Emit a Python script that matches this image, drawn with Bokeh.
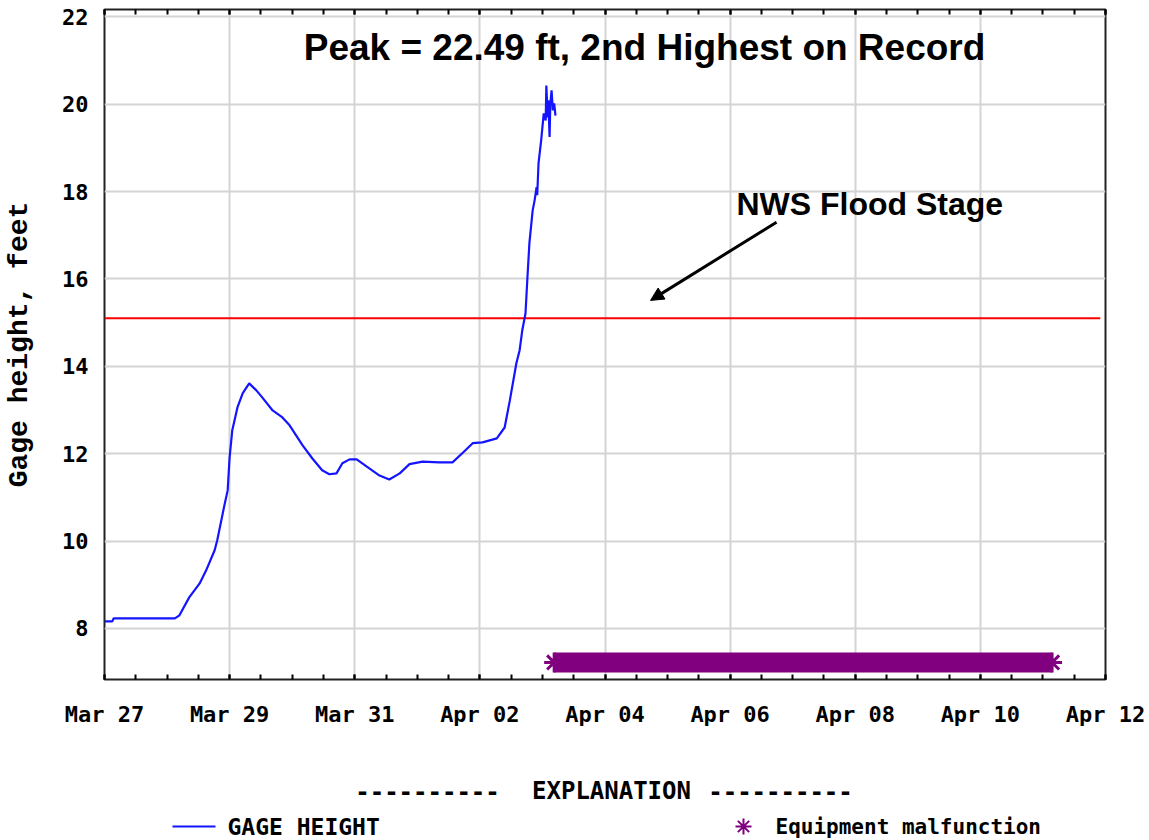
import pandas as pd
from bokeh.plotting import figure
from bokeh.layouts import column
from bokeh.core.properties import value
from bokeh.models import (FixedTicker, DatetimeAxis, DatetimeTickFormatter, Range1d,
                          Label, Arrow, NormalHead)
from bokeh.embed import file_html
from bokeh.resources import INLINE

# ---------------- data ----------------
GAGE_TIME = [
    "2005-03-27 00:00", "2005-03-27 03:00", "2005-03-27 03:30", "2005-03-28 03:00",
    "2005-03-28 04:45", "2005-03-28 08:30", "2005-03-28 12:30", "2005-03-28 15:00",
    "2005-03-28 18:15", "2005-03-28 19:15", "2005-03-28 22:00", "2005-03-28 23:15",
    "2005-03-29 00:00", "2005-03-29 01:00", "2005-03-29 03:00", "2005-03-29 05:00",
    "2005-03-29 07:30", "2005-03-29 10:15", "2005-03-29 12:30", "2005-03-29 16:30",
    "2005-03-29 20:15", "2005-03-29 23:00", "2005-03-30 04:00", "2005-03-30 07:45",
    "2005-03-30 11:30", "2005-03-30 14:15", "2005-03-30 17:00", "2005-03-30 19:15",
    "2005-03-30 22:00", "2005-03-31 00:45", "2005-03-31 04:30", "2005-03-31 09:30",
    "2005-03-31 13:15", "2005-03-31 17:15", "2005-03-31 21:00", "2005-04-01 02:00",
    "2005-04-01 08:30", "2005-04-01 13:30", "2005-04-01 17:15", "2005-04-01 21:15",
    "2005-04-02 01:00", "2005-04-02 06:30", "2005-04-02 09:30", "2005-04-02 11:30",
    "2005-04-02 14:00", "2005-04-02 15:15", "2005-04-02 16:15", "2005-04-02 17:30",
    "2005-04-02 18:15", "2005-04-02 19:00", "2005-04-02 20:15", "2005-04-02 21:00",
    "2005-04-02 21:45", "2005-04-02 22:00", "2005-04-02 22:30", "2005-04-02 23:30",
    "2005-04-03 00:30", "2005-04-03 01:15", "2005-04-03 01:30", "2005-04-03 02:00",
    "2005-04-03 02:15", "2005-04-03 02:45", "2005-04-03 03:00", "2005-04-03 03:30",
    "2005-04-03 04:00", "2005-04-03 04:30", "2005-04-03 05:00",
]
GAGE_FT = [
    8.16, 8.16, 8.23, 8.23,
    8.30, 8.71, 9.03, 9.33,
    9.79, 10.02, 10.82, 11.16,
    11.92, 12.53, 13.06, 13.38,
    13.61, 13.45, 13.29, 12.99,
    12.83, 12.65, 12.19, 11.89,
    11.62, 11.53, 11.55, 11.78,
    11.87, 11.87, 11.71, 11.50,
    11.41, 11.55, 11.76, 11.82,
    11.80, 11.80, 12.01, 12.24,
    12.26, 12.35, 12.60, 13.22,
    14.07, 14.37, 14.82, 15.21,
    16.04, 16.82, 17.57, 17.80,
    18.10, 17.92, 18.65, 19.17,
    19.79, 19.63, 20.43, 19.70,
    20.09, 19.25, 19.98, 20.32,
    19.86, 20.02, 19.74,
]
FLOOD_STAGE_FT = 15.1
FLOOD_LINE_TIME = ["2005-03-27 00:00", "2005-04-11 22:00"]
MALF_TIME = ["2005-04-03 04:30", "2005-04-11 03:30"]
MALF_LEVEL_FT = 7.22
Y_TICKS = [8, 10, 12, 14, 16, 18, 20, 22]
X_START, X_END = "2005-03-27 00:00", "2005-04-12 00:00"
PEAK_TEXT = "Peak = 22.49 ft, 2nd Highest on Record"
FLOOD_TEXT = "NWS Flood Stage"
EXPLANATION_PARTS = ["----------", "EXPLANATION", "----------"]
LEGEND_LABELS = ["GAGE HEIGHT", "Equipment malfunction"]

BLUE, RED, PURPLE = "#1414ff", "#ff0000", "#800080"
MONO = "DejaVu Sans Mono"
W = 1149
BL, BR = 104, 44          # left / right borders around the plotting frame
FRAME_W = W - BL - BR


def ms(s):
    return pd.Timestamp(s).value / 1e6


gage_t = pd.to_datetime(GAGE_TIME)
malf_t = pd.to_datetime(MALF_TIME)
flood_t = pd.to_datetime(FLOOD_LINE_TIME)

major_x = [ms(t) for t in pd.date_range(X_START, X_END, freq="2D")]
minor_x = [ms(t) for t in pd.date_range(X_START, X_END, freq="12h")]

# ---------------- main chart ----------------
p = figure(width=W, height=744, x_axis_type="datetime",
           x_range=Range1d(pd.Timestamp(X_START), pd.Timestamp(X_END)),
           y_range=Range1d(6.83, 22.17),
           output_backend="svg", toolbar_location=None,
           min_border_left=BL, min_border_right=BR, min_border_top=9,
           min_border_bottom=65)
p.background_fill_color = "white"
p.border_fill_color = "white"
p.outline_line_color = "#222222"
p.outline_line_width = 2

xt = FixedTicker(ticks=major_x, minor_ticks=minor_x)
ax = p.xaxis[0]
ax.ticker = xt
ax.formatter = DatetimeTickFormatter(days="%b %d", months="%b %d", hours="%b %d")
ax.axis_line_color = None
ax.major_tick_in = 5
ax.major_tick_out = 0
ax.minor_tick_in = 5
ax.minor_tick_out = 0
ax.major_tick_line_width = 2
ax.minor_tick_line_width = 2
ax.major_tick_line_color = "black"
ax.minor_tick_line_color = "black"
ax.major_label_standoff = 22
ax.major_label_text_font = MONO
ax.major_label_text_font_style = "bold"
ax.major_label_text_font_size = "22px"
ax.major_label_text_color = "black"

top = DatetimeAxis(ticker=xt, axis_line_color=None, major_tick_in=5, major_tick_out=0,
                   minor_tick_in=5, minor_tick_out=0, major_tick_line_width=2,
                   minor_tick_line_width=2, major_label_standoff=0,
                   major_label_overrides={t: "" for t in major_x})
p.add_layout(top, "above")

p.yaxis.ticker = FixedTicker(ticks=Y_TICKS)
ya = p.yaxis[0]
ya.axis_line_color = None
ya.major_tick_in = 0
ya.major_tick_out = 0
ya.minor_tick_line_color = None
ya.major_label_standoff = 16
ya.major_label_text_font = MONO
ya.major_label_text_font_style = "bold"
ya.major_label_text_font_size = "22px"
ya.major_label_text_color = "black"
ya.axis_label = "Gage height, feet"
ya.axis_label_text_font = "Liberation Mono"
ya.axis_label_text_font_style = "bold"
ya.axis_label_text_font_size = "28px"
ya.axis_label_text_color = "black"
ya.axis_label_standoff = 24

p.xgrid.grid_line_color = "#d4d4d4"
p.xgrid.grid_line_width = 2
p.ygrid.grid_line_color = "#d4d4d4"
p.ygrid.grid_line_width = 2

# flood stage
p.line(flood_t, [FLOOD_STAGE_FT, FLOOD_STAGE_FT], line_color=RED, line_width=2)

# gage height
p.line(gage_t, GAGE_FT, line_color=BLUE, line_width=2.2)

# equipment malfunction band
p.segment(x0=[malf_t[0]], y0=[MALF_LEVEL_FT], x1=[malf_t[1]], y1=[MALF_LEVEL_FT],
          line_color=PURPLE, line_width=20)
p.scatter(malf_t, [MALF_LEVEL_FT, MALF_LEVEL_FT], marker="asterisk", size=20,
          line_color=PURPLE, line_width=3)

# annotations
p.add_layout(Label(x=ms("2005-04-04 15:10"), y=21.30, text=PEAK_TEXT,
                   text_font="Liberation Sans", text_font_style="bold",
                   text_font_size="37px", text_align="center", text_baseline="middle",
                   text_color="black"))
p.add_layout(Label(x=ms("2005-04-06 02:25"), y=17.71, text=FLOOD_TEXT,
                   text_font="Liberation Sans", text_font_style="bold",
                   text_font_size="32px", text_align="left", text_baseline="middle",
                   text_color="black"))
p.add_layout(Arrow(end=NormalHead(size=13, fill_color="black", line_color="black"),
                   x_start=ms("2005-04-06 17:48"), y_start=17.30,
                   x_end=ms("2005-04-04 17:28"), y_end=15.51,
                   line_width=3, line_color="black"))

# ---------------- explanation strip (pixel layout, same frame as the chart) ----------------
H2 = 94
q = figure(width=W, height=H2, x_range=Range1d(0, FRAME_W), y_range=Range1d(0, H2),
           output_backend="svg", toolbar_location=None,
           x_axis_location=None, y_axis_location=None,
           min_border_left=BL, min_border_right=BR, min_border_top=0, min_border_bottom=0)
q.grid.visible = False
q.outline_line_color = None
q.background_fill_color = "white"
q.border_fill_color = "white"

q.text(x=[323, 507, 676], y=[48, 48, 48], text=EXPLANATION_PARTS, text_align="center",
       text_baseline="middle", text_font=value(MONO), text_font_style="bold",
       text_font_size="24px", text_color="black")
row_y = 12
q.segment(x0=[68], y0=[row_y], x1=[111], y1=[row_y], line_color=BLUE, line_width=2)
q.text(x=[123], y=[row_y], text=[LEGEND_LABELS[0]], text_align="left",
       text_baseline="middle", text_font=value(MONO), text_font_style="bold",
       text_font_size="23px", text_color="black")
q.scatter(x=[639], y=[row_y], marker="asterisk", size=16, line_color=PURPLE, line_width=2)
q.text(x=[671], y=[row_y], text=[LEGEND_LABELS[1]], text_align="left",
       text_baseline="middle", text_font=value(MONO), text_font_style="bold",
       text_font_size="21px", text_color="black")

layout = column(p, q, spacing=0)
open("out.html", "w").write(file_html(layout, INLINE))
